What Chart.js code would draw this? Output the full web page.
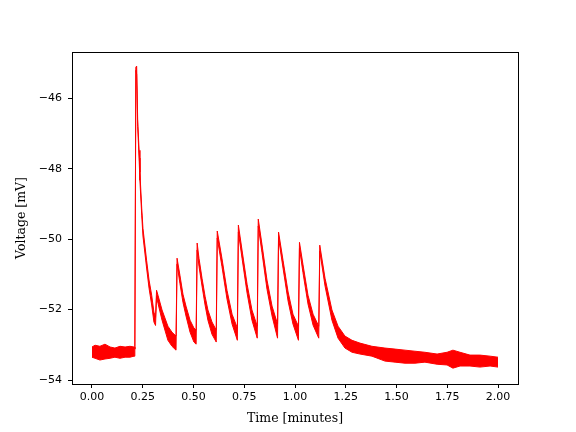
<!DOCTYPE html>
<html>
<head>
<meta charset="utf-8">
<script src="https://cdn.jsdelivr.net/npm/chart.js@4"></script>
<style>
  html, body { margin: 0; padding: 0; background: #fff; }
  #chart { display: block; }
</style>
</head>
<body>
<canvas id="chart" width="576" height="432"></canvas>
<script>
// ── Data (upper / lower edge of the noisy band) ──
const timeMin = [0.000, 0.015, 0.039, 0.064, 0.089, 0.113, 0.138, 0.163, 0.187, 0.207,
  0.211, 0.216, 0.220, 0.225, 0.232, 0.236, 0.245, 0.251, 0.269, 0.281,
  0.294, 0.305, 0.313, 0.318, 0.325, 0.345, 0.374, 0.394, 0.414, 0.419,
  0.433, 0.448, 0.463, 0.483, 0.502, 0.513, 0.518, 0.527, 0.542, 0.557,
  0.571, 0.591, 0.612, 0.617, 0.640, 0.665, 0.690, 0.716, 0.721, 0.739,
  0.764, 0.788, 0.814, 0.819, 0.837, 0.862, 0.887, 0.914, 0.919, 0.941,
  0.966, 0.990, 1.017, 1.022, 1.039, 1.064, 1.089, 1.117, 1.122, 1.148,
  1.182, 1.212, 1.246, 1.281, 1.320, 1.379, 1.443, 1.493, 1.542, 1.591,
  1.640, 1.700, 1.749, 1.778, 1.813, 1.862, 1.911, 1.961, 2.000];

const upperMv = [-53.06, -53.01, -53.04, -52.98, -53.06, -53.09, -53.04, -53.06, -53.04, -53.06,
  -53.12, -45.12, -45.09, -46.60, -47.48, -48.10, -49.12, -49.69, -50.60, -51.16,
  -51.59, -52.07, -52.22, -51.45, -51.59, -52.01, -52.47, -52.64, -52.75, -50.54,
  -51.02, -51.56, -51.90, -52.30, -52.52, -52.58, -50.11, -50.54, -51.11, -51.62,
  -52.01, -52.35, -52.58, -49.77, -50.54, -51.45, -52.13, -52.52, -49.60, -50.31,
  -51.28, -52.01, -52.47, -49.43, -50.14, -51.16, -51.90, -52.41, -49.80, -50.60,
  -51.50, -52.13, -52.47, -50.09, -50.71, -51.59, -52.13, -52.47, -50.17, -51.11,
  -52.01, -52.47, -52.75, -52.87, -52.95, -53.04, -53.09, -53.12, -53.15, -53.18,
  -53.21, -53.26, -53.21, -53.15, -53.21, -53.29, -53.29, -53.32, -53.35];

const lowerMv = [-53.35, -53.38, -53.43, -53.40, -53.38, -53.35, -53.38, -53.35, -53.35, -53.32,
  -53.29, -45.21, -45.32, -46.80, -47.70, -48.33, -49.32, -49.91, -50.82, -51.39,
  -51.87, -52.35, -52.45, -51.62, -51.82, -52.30, -52.87, -53.04, -53.15, -50.71,
  -51.25, -51.79, -52.18, -52.64, -52.92, -52.98, -50.31, -50.77, -51.33, -51.87,
  -52.30, -52.70, -52.92, -49.97, -50.77, -51.70, -52.41, -52.87, -49.80, -50.54,
  -51.53, -52.30, -52.81, -49.63, -50.37, -51.42, -52.18, -52.81, -49.97, -50.82,
  -51.76, -52.41, -52.87, -50.26, -50.94, -51.84, -52.44, -52.81, -50.34, -51.33,
  -52.30, -52.81, -53.09, -53.21, -53.26, -53.32, -53.46, -53.49, -53.52, -53.52,
  -53.49, -53.55, -53.57, -53.66, -53.60, -53.60, -53.63, -53.60, -53.63];

const xTicks = [0, 0.25, 0.5, 0.75, 1.0, 1.25, 1.5, 1.75, 2.0];
const yTicks = [-54, -52, -50, -48, -46];

// ── Helpers ───────────────────────────────────────────────────
const toPoints = vals => timeMin.map((t, i) => ({ x: t, y: vals[i] }));
const fmtY = v => (v < 0 ? '\u2212' : '') + Math.abs(v);

const frame = {
    id: 'frame',
    afterDraw(chart) {
        const { ctx, chartArea: a } = chart;
        ctx.save();
        ctx.strokeStyle = '#000';
        ctx.lineWidth = 1;
        ctx.strokeRect(Math.round(a.left) + 0.5, Math.round(a.top) + 0.5,
                       Math.round(a.right - a.left), Math.round(a.bottom - a.top));
        ctx.restore();
    },
};

const tickFont = { family: '"DejaVu Sans", sans-serif', size: 11 };
const titleFont = { family: '"DejaVu Serif", serif', size: 12.5 };

new Chart(document.getElementById('chart'), {
    type: 'line',
    data: {
        datasets: [
            { label: 'upper', data: toPoints(upperMv), borderColor: '#ff0000', borderWidth: 1,
              pointRadius: 0, fill: false, tension: 0 },
            { label: 'lower', data: toPoints(lowerMv), borderColor: '#ff0000', borderWidth: 1,
              backgroundColor: '#ff0000', pointRadius: 0, fill: '-1', tension: 0 },
        ],
    },
    options: {
        responsive: false, animation: false, devicePixelRatio: 1,
        layout: { padding: { left: 0, top: 52, right: 58, bottom: 0 } },
        plugins: { legend: { display: false }, tooltip: { enabled: false } },
        scales: {
            x: {
                type: 'linear', min: -0.0985, max: 2.0985,
                afterBuildTicks: s => { s.ticks = xTicks.map(v => ({ value: v })); },
                afterFit: s => { s.height = 48; },
                ticks: { autoSkip: false, maxRotation: 0, color: '#000', font: tickFont, padding: 3,
                         callback: v => Number(v).toFixed(2) },
                grid: { drawOnChartArea: false, tickLength: 4, tickColor: '#000' },
                border: { display: false },
                title: { display: true, text: 'Time [minutes]', color: '#000', font: titleFont,
                         padding: { top: 0, bottom: 6 } },
            },
            y: {
                type: 'linear', min: -54.11, max: -44.69,
                afterBuildTicks: s => { s.ticks = yTicks.map(v => ({ value: v })); },
                afterFit: s => { s.width = 72; },
                ticks: { autoSkip: false, color: '#000', font: tickFont, padding: 6,
                         callback: v => fmtY(v) },
                grid: { drawOnChartArea: false, tickLength: 4, tickColor: '#000' },
                border: { display: false },
                title: { display: true, text: 'Voltage [mV]', color: '#000', font: titleFont,
                         padding: { top: 14, bottom: 0 } },
            },
        },
    },
    plugins: [frame],
});
</script>
</body>
</html>
